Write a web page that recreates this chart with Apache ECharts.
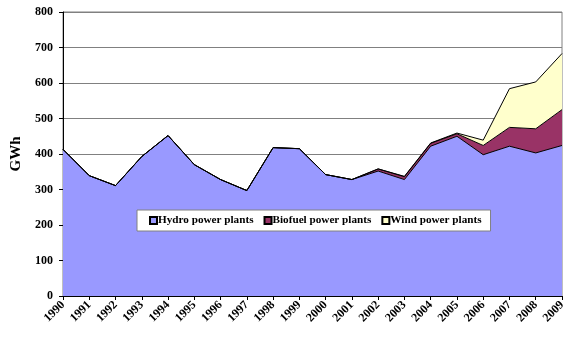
<!DOCTYPE html>
<html><head><meta charset="utf-8">
<script src="https://cdn.jsdelivr.net/npm/echarts@6/dist/echarts.min.js"></script>
<style>html,body{margin:0;padding:0;background:#fff}#c{width:584px;height:362px}</style>
</head><body><div id="c"></div>
<script>
const years = ['1990','1991','1992','1993','1994','1995','1996','1997','1998','1999','2000','2001','2002','2003','2004','2005','2006','2007','2008','2009'];
const hydro   = [413,339,311,393,452,370,328,297,418,415,342,328,352,328,422,450,398,422,403,424];
const biofuel = [0,0,0,0,0,0,0,0,0,0,0,0,6,8,8,7,26,53,68,101];
const wind    = [0,0,0,0,0,0,0,0,0,0,0,0,0,1,1,2,15,109,132,158];
const yTicks = {min:0, max:800, interval:100};

const font = '"Liberation Serif", "Times New Roman", serif';
const chart = echarts.init(document.getElementById('c'));
function ser(name, data, color){
  return {name, type:'line', stack:'total', data, symbol:'none',
    lineStyle:{color:'#000', width:1}, itemStyle:{color, borderColor:'#000', borderWidth:1},
    areaStyle:{color, opacity:1}, emphasis:{disabled:true}};
}
chart.setOption({
  animation:false,
  grid:{left:63, right:22, top:12, bottom:66, show:true, borderColor:'#808080', borderWidth:1, containLabel:false},
  legend:{left:137, top:210, backgroundColor:'#fff', borderColor:'#808080', borderWidth:1,
    padding:[5,9,5,12], itemGap:10, itemWidth:7, itemHeight:7, icon:'rect',
    textStyle:{fontFamily:font, fontWeight:'bold', fontSize:11.2, color:'#000', padding:[0,0,0,-4]},
    data:['Hydro power plants','Biofuel power plants','Wind power plants']},
  xAxis:{type:'category', data:years, boundaryGap:false,
    axisLine:{lineStyle:{color:'#000'}}, axisTick:{show:true, length:4, lineStyle:{color:'#000'}},
    axisLabel:{rotate:45, interval:0, fontFamily:font, fontWeight:'bold', fontSize:12, color:'#000', margin:7}},
  yAxis:{type:'value', min:yTicks.min, max:yTicks.max, interval:yTicks.interval,
    name:'GWh', nameLocation:'middle', nameGap:34, nameRotate:90,
    nameTextStyle:{fontFamily:font, fontWeight:'bold', fontSize:15, color:'#000'},
    axisLine:{show:true, lineStyle:{color:'#000'}}, axisTick:{show:true, length:4, lineStyle:{color:'#000'}},
    splitLine:{lineStyle:{color:'#808080'}},
    axisLabel:{fontFamily:font, fontWeight:'bold', fontSize:12, color:'#000', margin:10}},
  series:[ser('Hydro power plants', hydro, '#9999FF'), ser('Biofuel power plants', biofuel, '#993366'), ser('Wind power plants', wind, '#FFFFCC')]
});
</script></body></html>
